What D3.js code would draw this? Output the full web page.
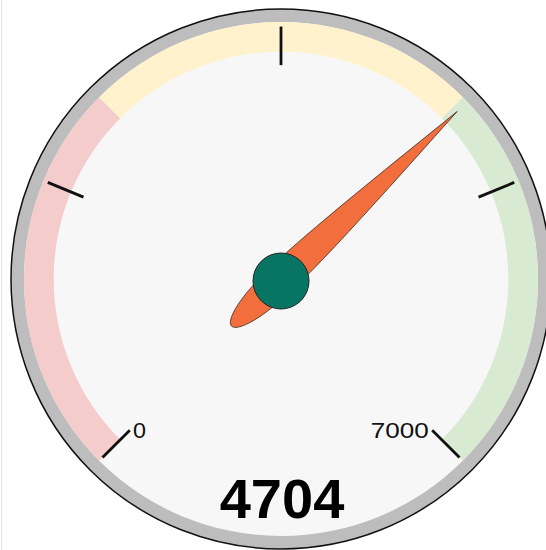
<!DOCTYPE html>
<html>
<head>
<meta charset="utf-8">
<script src="https://cdn.jsdelivr.net/npm/d3@7"></script>
<style>
  html, body { margin: 0; padding: 0; background: #ffffff; overflow: hidden; }
  svg { display: block; }
</style>
</head>
<body>
<svg id="chart" width="546" height="550"></svg>
<script>
// ---- data ----
const gaugeMin = 0;
const gaugeMax = 7000;
const currentValue = 4704;
const majorTicks = [0, 1750, 3500, 5250, 7000];
const tickLabels = [0, 7000];
const zoneStarts = [0, 2333.33, 4666.67];
const zoneEnds = [2333.33, 4666.67, 7000];
const zoneColors = ["#f4cccc", "#fff2cc", "#d9ead3"];

// ---- layout ----
const W = 546, H = 550;
const cx = 281, cy = 279, R = 270;

const svg = d3.select("#chart");

// faint container border on the left
svg.append("line")
  .attr("x1", 1.5).attr("x2", 1.5).attr("y1", 0).attr("y2", H)
  .attr("stroke", "#e4e4e4").attr("stroke-width", 1);

const angle = d3.scaleLinear().domain([gaugeMin, gaugeMax]).range([-135, 135]);
const rad = v => angle(v) * Math.PI / 180;
const pt = (v, f) => [cx + R * f * Math.sin(rad(v)), cy - R * f * Math.cos(rad(v))];

const g = svg.append("g");

// outer ring
g.append("circle").attr("cx", cx).attr("cy", cy).attr("r", R)
  .attr("fill", "#bdbdbd").attr("stroke", "#111").attr("stroke-width", 1.5);
// face
g.append("circle").attr("cx", cx).attr("cy", cy).attr("r", R * 0.952)
  .attr("fill", "#f7f7f7");

// zone bands
const arc = d3.arc().innerRadius(R * 0.842).outerRadius(R * 0.952);
g.selectAll("path.zone")
  .data(zoneStarts.map((s, i) => ({ s, e: zoneEnds[i], c: zoneColors[i] })))
  .join("path")
  .attr("class", "zone")
  .attr("transform", `translate(${cx},${cy})`)
  .attr("d", d => arc({ startAngle: rad(d.s), endAngle: rad(d.e) }))
  .attr("fill", d => d.c);

// major ticks
g.selectAll("line.tick")
  .data(majorTicks)
  .join("line")
  .attr("class", "tick")
  .attr("x1", d => pt(d, 0.792)[0]).attr("y1", d => pt(d, 0.792)[1])
  .attr("x2", d => pt(d, 0.935)[0]).attr("y2", d => pt(d, 0.935)[1])
  .attr("stroke", "#111").attr("stroke-width", 2.8);

// end labels
g.selectAll("text.lbl")
  .data(tickLabels)
  .join("text")
  .attr("class", "lbl")
  .attr("x", d => pt(d, 0.785)[0] + (d === gaugeMin ? 2 : -2))
  .attr("y", d => pt(d, 0.785)[1] + 9)
  .attr("text-anchor", d => d === gaugeMin ? "start" : "end")
  .attr("font-family", "Liberation Sans, Arial, sans-serif")
  .attr("font-size", 22)
  .attr("fill", "#111")
  .attr("textLength", d => d === gaugeMin ? 13 : 58)
  .attr("lengthAdjust", "spacingAndGlyphs")
  .text(d => d);

// pointer
const delta = (gaugeMax - gaugeMin) / 13;
const tailValue = currentValue - (gaugeMax - gaugeMin) * (2 / 3);
const pointerPts = [
  pt(currentValue, 0.9),
  pt(currentValue - delta, 0.17),
  pt(tailValue + delta, 0.17),
  pt(tailValue, 0.3),
  pt(tailValue - delta, 0.17),
  pt(currentValue + delta, 0.17),
  pt(currentValue, 0.9)
];
g.append("path")
  .attr("d", d3.line().curve(d3.curveBasis)(pointerPts))
  .attr("fill", "#f26e3c")
  .attr("stroke", "#3a2a20").attr("stroke-width", 0.8);

g.append("circle").attr("cx", cx).attr("cy", cy + 2).attr("r", 28)
  .attr("fill", "#087563").attr("stroke", "#222").attr("stroke-width", 1);

// value text
g.append("text")
  .attr("x", cx + 1).attr("y", cy + 239)
  .attr("text-anchor", "middle")
  .attr("font-family", "Liberation Sans, Arial, sans-serif")
  .attr("font-weight", "bold")
  .attr("font-size", 56)
  .attr("fill", "#000")
  .text(currentValue);
</script>
</body>
</html>
